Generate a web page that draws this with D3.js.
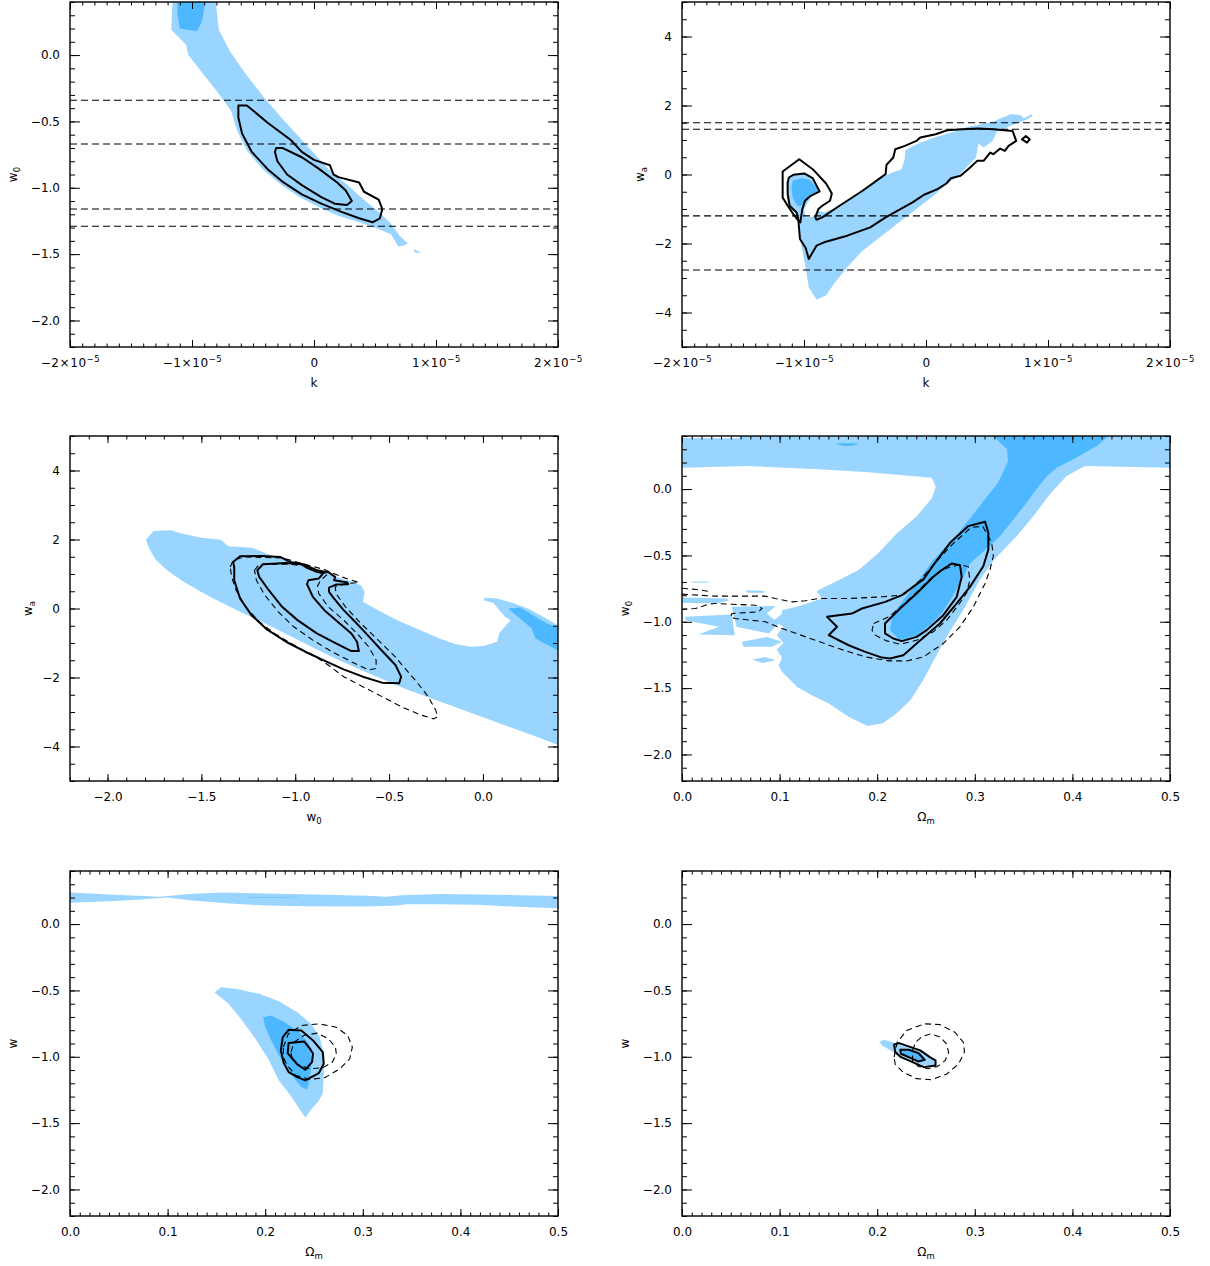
<!DOCTYPE html>
<html>
<head>
<meta charset="utf-8">
<script src="https://cdn.jsdelivr.net/npm/d3@7"></script>
<style>
  body { margin: 0; background: #fff; }
  svg { display: block; }
  text { font-family: "DejaVu Sans", sans-serif; fill: #000; }
</style>
</head>
<body>
<svg id="chart" width="1210" height="1266"></svg>
<script>
// ---- tick labels ----
const kTicks = [-2, -1, 0, 1, 2];              // k in units of 1e-5
const kTickLabels = [
  { base: '−2×10', exp: '−5' }, { base: '−1×10', exp: '−5' }, { base: '0', exp: '' },
  { base: '1×10', exp: '−5' }, { base: '2×10', exp: '−5' }
];
const w0Ticks = [0, -0.5, -1, -1.5, -2];
const w0TickLabels = ['0.0', '−0.5', '−1.0', '−1.5', '−2.0'];
const waTicks = [4, 2, 0, -2, -4];
const waTickLabels = ['4', '2', '0', '−2', '−4'];
const w0xTicks = [-2, -1.5, -1, -0.5, 0];
const w0xTickLabels = ['−2.0', '−1.5', '−1.0', '−0.5', '0.0'];
const omTicks = [0, 0.1, 0.2, 0.3, 0.4, 0.5];
const omTickLabels = ['0.0', '0.1', '0.2', '0.3', '0.4', '0.5'];

// ---- panel 1: k vs w0 ----
const p1Light = [[-1.16,0.40],[-1.17,0.19],[-1.05,0.08],[-1.03,0.0],[-0.92,-0.13],[-0.79,-0.28],[-0.68,-0.42],[-0.63,-0.57],[-0.55,-0.72],[-0.42,-0.86],[-0.28,-0.97],[-0.12,-1.07],[0.05,-1.15],[0.20,-1.21],[0.37,-1.26],[0.53,-1.31],[0.63,-1.35],[0.69,-1.44],[0.72,-1.44],[0.77,-1.42],[0.70,-1.36],[0.63,-1.27],[0.53,-1.18],[0.42,-1.10],[0.25,-0.96],[0.12,-0.86],[0.03,-0.77],[-0.10,-0.64],[-0.25,-0.49],[-0.41,-0.32],[-0.57,-0.13],[-0.69,0.03],[-0.78,0.19],[-0.805,0.40]];
const p1Island = [[0.81,-1.46],[0.88,-1.49],[0.83,-1.49]];
const p1Dark = [[-1.12,0.40],[-0.90,0.40],[-0.90,0.35],[-0.92,0.25],[-0.96,0.18],[-1.10,0.20],[-1.12,0.31]];
const p1Outer = [[-0.62,-0.38],[-0.55,-0.38],[-0.38,-0.51],[-0.19,-0.64],[-0.10,-0.73],[0.0,-0.79],[0.13,-0.83],[0.16,-0.90],[0.20,-0.92],[0.37,-0.96],[0.41,-1.03],[0.53,-1.09],[0.56,-1.16],[0.54,-1.23],[0.48,-1.26],[0.37,-1.23],[0.22,-1.18],[0.06,-1.12],[-0.10,-1.05],[-0.25,-0.96],[-0.38,-0.86],[-0.51,-0.73],[-0.59,-0.59],[-0.62,-0.47]];
const p1Inner = [[-0.31,-0.70],[-0.26,-0.70],[-0.10,-0.77],[0.03,-0.85],[0.19,-0.96],[0.26,-1.02],[0.31,-1.10],[0.27,-1.13],[0.17,-1.12],[0.06,-1.07],[-0.10,-0.98],[-0.22,-0.90],[-0.30,-0.80],[-0.32,-0.73]];
const p1Levels = [-0.34, -0.67, -1.16, -1.29];

// ---- panel 2: k vs wa ----
const p2Light = [[-1.118,-0.039],[-1.008,0.029],[-0.923,-0.087],[-0.879,-0.424],[-0.945,-0.665],[-0.998,-1.002],[-0.986,-1.243],[-0.929,-1.224],[-0.882,-1.05],[-0.835,-1.10],[-0.709,-0.92],[-0.551,-0.52],[-0.40,-0.15],[-0.28,0.05],[-0.20,0.15],[-0.175,0.45],[-0.17,0.70],[-0.079,0.877],[0.079,1.089],[0.236,1.243],[0.331,1.378],[0.425,1.436],[0.551,1.533],[0.661,1.696],[0.693,1.745],[0.772,1.725],[0.803,1.629],[0.866,1.745],[0.872,1.696],[0.819,1.581],[0.709,1.436],[0.583,1.243],[0.545,0.973],[0.472,0.781],[0.431,0.896],[0.409,0.492],[0.346,0.251],[0.252,-0.087],[0.173,-0.26],[0.063,-0.617],[-0.079,-1.002],[-0.205,-1.340],[-0.362,-1.773],[-0.520,-2.207],[-0.646,-2.689],[-0.756,-3.171],[-0.819,-3.508],[-0.898,-3.624],[-0.961,-3.267],[-0.983,-2.786],[-1.008,-2.304],[-1.033,-1.870],[-1.046,-1.388],[-1.061,-1.147],[-1.118,-0.906],[-1.134,-0.569],[-1.134,-0.231]];
const p2Dark = [[-1.093,-0.183],[-1.024,-0.106],[-0.961,-0.135],[-0.898,-0.376],[-0.888,-0.520],[-0.945,-0.569],[-0.992,-0.761],[-1.024,-0.906],[-1.055,-0.906],[-1.093,-0.665],[-1.102,-0.376]];
const p2Outer = [[-1.175,0.087],[-1.039,0.443],[-0.929,0.154],[-0.819,-0.260],[-0.772,-0.549],[-0.787,-0.761],[-0.850,-0.906],[-0.882,-1.002],[-0.907,-1.243],[-0.898,-1.31],[-0.850,-1.243],[-0.709,-0.906],[-0.520,-0.472],[-0.331,0.010],[-0.324,0.28],[-0.268,0.492],[-0.252,0.733],[-0.173,0.829],[-0.079,0.973],[-0.047,1.07],[0.079,1.166],[0.173,1.282],[0.299,1.311],[0.425,1.33],[0.551,1.311],[0.709,1.263],[0.740,0.973],[0.677,0.829],[0.646,0.684],[0.608,0.752],[0.551,0.588],[0.526,0.636],[0.472,0.395],[0.419,0.395],[0.362,0.202],[0.283,-0.039],[0.205,-0.106],[0.167,-0.26],[0.094,-0.424],[-0.016,-0.588],[-0.110,-0.81],[-0.331,-1.243],[-0.457,-1.533],[-0.646,-1.773],[-0.835,-1.966],[-0.898,-2.063],[-0.961,-2.448],[-0.986,-2.13],[-1.033,-1.870],[-1.046,-1.340],[-1.087,-1.147],[-1.134,-0.906],[-1.175,-0.665]];
const p2Inner = [[-1.124,-0.087],[-1.087,-0.01],[-0.998,0.029],[-0.929,-0.106],[-0.872,-0.492],[-0.945,-0.617],[-0.992,-0.761],[-1.014,-1.002],[-1.030,-1.388],[-1.046,-1.32],[-1.061,-1.099],[-1.118,-0.906],[-1.134,-0.569],[-1.134,-0.231]];
const p2Diamond = [[0.787,1.02],[0.819,1.118],[0.850,1.02],[0.828,0.925]];
const p2Levels = [1.50, 1.31, -1.20, -2.77];

// ---- panel 3: w0 vs wa ----
const p3Light = [[-1.796,1.995],[-1.755,2.246],[-1.663,2.265],[-1.601,2.169],[-1.499,2.053],[-1.397,1.995],[-1.356,1.802],[-1.233,1.764],[-1.172,1.639],[-1.110,1.494],[-1.008,1.349],[-0.926,1.205],[-0.845,1.060],[-0.783,0.916],[-0.722,0.819],[-0.650,0.675],[-0.630,0.482],[-0.640,0.193],[-0.558,-0.048],[-0.456,-0.337],[-0.333,-0.627],[-0.231,-0.867],[-0.149,-1.031],[-0.067,-1.108],[0.004,-1.089],[0.076,-0.964],[0.086,-0.723],[0.117,-0.530],[0.147,-0.337],[0.117,-0.241],[0.055,0.164],[0.004,0.241],[0.010,0.308],[0.076,0.289],[0.157,0.164],[0.239,0.0],[0.321,-0.241],[0.42,-0.55],[0.42,-4.0],[0.321,-3.788],[0.198,-3.547],[0.076,-3.306],[-0.047,-3.055],[-0.170,-2.814],[-0.292,-2.573],[-0.415,-2.323],[-0.538,-2.043],[-0.661,-1.754],[-0.783,-1.455],[-0.906,-1.128],[-1.029,-0.790],[-1.151,-0.453],[-1.274,-0.145],[-1.397,0.183],[-1.499,0.472],[-1.601,0.800],[-1.683,1.108],[-1.744,1.417],[-1.775,1.706]];
const p3Dark = [[0.137,0.0],[0.198,0.029],[0.280,-0.241],[0.342,-0.434],[0.42,-0.60],[0.42,-1.27],[0.362,-1.108],[0.280,-0.867],[0.260,-0.578],[0.198,-0.289],[0.147,-0.067]];
const p3Outer = [[-1.325,1.205],[-1.331,1.349],[-1.294,1.513],[-1.172,1.523],[-1.080,1.494],[-1.029,1.349],[-0.957,1.282],[-0.885,1.108],[-0.820,1.041],[-0.787,0.916],[-0.793,0.819],[-0.722,0.752],[-0.718,0.704],[-0.783,0.694],[-0.820,0.607],[-0.820,0.482],[-0.793,0.289],[-0.742,-0.048],[-0.681,-0.386],[-0.609,-0.800],[-0.538,-1.224],[-0.466,-1.639],[-0.436,-1.976],[-0.446,-2.169],[-0.538,-2.149],[-0.640,-1.976],[-0.742,-1.764],[-0.845,-1.513],[-0.947,-1.253],[-1.049,-0.964],[-1.151,-0.607],[-1.233,-0.193],[-1.294,0.289],[-1.325,0.819]];
const p3Inner = [[-1.202,1.108],[-1.172,1.282],[-1.049,1.320],[-0.967,1.282],[-0.937,1.176],[-0.885,1.060],[-0.849,1.031],[-0.875,0.867],[-0.930,0.819],[-0.937,0.704],[-0.906,0.337],[-0.845,-0.048],[-0.763,-0.434],[-0.701,-0.723],[-0.671,-0.964],[-0.661,-1.234],[-0.701,-1.234],[-0.783,-1.012],[-0.885,-0.723],[-0.988,-0.337],[-1.070,0.048],[-1.141,0.530],[-1.192,0.916]];
const p3DashOuter = [[-1.346,1.205],[-1.331,1.398],[-1.274,1.494],[-1.070,1.465],[-0.947,1.282],[-0.845,1.128],[-0.753,0.916],[-0.661,0.752],[-0.732,0.723],[-0.787,0.627],[-0.783,0.434],[-0.732,0.048],[-0.650,-0.434],[-0.558,-0.916],[-0.476,-1.349],[-0.415,-1.735],[-0.354,-2.120],[-0.292,-2.554],[-0.252,-2.940],[-0.241,-3.133],[-0.262,-3.200],[-0.333,-3.084],[-0.436,-2.843],[-0.538,-2.554],[-0.640,-2.265],[-0.742,-1.976],[-0.824,-1.639],[-0.906,-1.349],[-1.008,-1.060],[-1.110,-0.723],[-1.192,-0.386],[-1.264,0.048],[-1.315,0.530],[-1.339,0.916]];
const p3DashInner = [[-1.217,1.108],[-1.192,1.282],[-1.029,1.282],[-0.947,1.234],[-0.885,1.051],[-0.824,1.012],[-0.865,0.819],[-0.881,0.655],[-0.875,0.434],[-0.824,0.048],[-0.742,-0.337],[-0.671,-0.723],[-0.609,-1.108],[-0.569,-1.494],[-0.569,-1.735],[-0.609,-1.783],[-0.701,-1.542],[-0.804,-1.253],[-0.906,-0.916],[-1.008,-0.530],[-1.090,-0.096],[-1.162,0.386],[-1.207,0.819]];

// ---- panel 4: Omega_m vs w0 ----
const p4Light = [[0,0.385],[0.058,0.383],[0.062,0.4],[0.5,0.4],[0.5,0.161],[0.413,0.173],[0.394,0.098],[0.377,-0.038],[0.360,-0.204],[0.343,-0.354],[0.320,-0.53],[0.305,-0.686],[0.288,-0.913],[0.271,-1.114],[0.258,-1.290],[0.247,-1.440],[0.234,-1.591],[0.220,-1.689],[0.206,-1.765],[0.190,-1.785],[0.171,-1.717],[0.150,-1.614],[0.133,-1.553],[0.118,-1.491],[0.1025,-1.378],[0.099,-1.33],[0.1025,-1.27],[0.097,-1.21],[0.104,-1.16],[0.097,-1.10],[0.104,-1.04],[0.094,-0.99],[0.1025,-0.94],[0.1025,-0.913],[0.123,-0.875],[0.1434,-0.825],[0.138,-0.774],[0.140,-0.760],[0.161,-0.685],[0.181,-0.610],[0.201,-0.484],[0.220,-0.334],[0.240,-0.208],[0.256,-0.07],[0.26,0.018],[0.256,0.085],[0.1875,0.128],[0.136,0.151],[0.068,0.173],[0,0.161]];
const p4Frag1 = [[0.010,-0.697],[0.027,-0.697],[0.027,-0.705],[0.010,-0.705]];
const p4Frag2 = [[0,-0.817],[0.046,-0.825],[0.048,-0.842],[0.034,-0.862],[0,-0.857]];
const p4Frag3 = [[0.065,-0.762],[0.085,-0.767],[0.084,-0.782],[0.067,-0.782]];
const p4Frag4 = [[0.0034,-0.963],[0.051,-0.945],[0.054,-1.101],[0.017,-1.096],[0.038,-1.038],[0.0034,-0.988]];
const p4Frag5 = [[0.051,-0.887],[0.096,-0.882],[0.087,-0.938],[0.099,-1.013],[0.089,-1.089],[0.056,-1.038],[0.053,-0.950]];
const p4Frag6 = [[0.0615,-1.151],[0.087,-1.114],[0.1025,-1.151],[0.092,-1.189],[0.063,-1.189]];
const p4Frag7 = [[0.072,-1.285],[0.085,-1.265],[0.096,-1.290],[0.082,-1.310]];
const p4Dark = [[0.319,0.4],[0.333,0.30],[0.334,0.21],[0.324,0.05],[0.308,-0.10],[0.293,-0.24],[0.278,-0.38],[0.2575,-0.535],[0.240,-0.711],[0.2268,-0.837],[0.2165,-0.937],[0.2149,-0.975],[0.2131,-1.063],[0.2234,-1.139],[0.2404,-1.101],[0.254,-1.026],[0.266,-0.937],[0.276,-0.824],[0.2866,-0.686],[0.295,-0.560],[0.311,-0.455],[0.326,-0.354],[0.3395,-0.229],[0.353,-0.103],[0.363,-0.002],[0.374,0.098],[0.384,0.161],[0.401,0.224],[0.425,0.324],[0.4368,0.4]];
const p4DarkSliver = [[0.157,0.345],[0.181,0.345],[0.175,0.327],[0.165,0.327]];
const p4Outer = [[0.1486,-0.963],[0.1742,-0.938],[0.1844,-0.900],[0.2083,-0.850],[0.2254,-0.799],[0.2391,-0.724],[0.2473,-0.681],[0.2592,-0.556],[0.2746,-0.405],[0.2934,-0.279],[0.3105,-0.246],[0.3139,-0.329],[0.3139,-0.455],[0.3087,-0.581],[0.295,-0.737],[0.2815,-0.862],[0.2643,-1.013],[0.2404,-1.164],[0.2268,-1.252],[0.2131,-1.277],[0.2049,-1.270],[0.1878,-1.227],[0.1708,-1.177],[0.1503,-1.101],[0.1588,-1.038]];
const p4Inner = [[0.2763,-0.561],[0.2848,-0.573],[0.2866,-0.661],[0.2815,-0.812],[0.2677,-0.950],[0.2507,-1.063],[0.2404,-1.114],[0.2251,-1.146],[0.2165,-1.126],[0.2080,-1.088],[0.2080,-1.013],[0.2234,-0.900],[0.2404,-0.787],[0.2575,-0.661],[0.2661,-0.611]];
const p4DashOuter = [[0,-0.792],[0.0342,-0.807],[0.0854,-0.807],[0.0956,-0.825],[0.1127,-0.850],[0.1264,-0.842],[0.140,-0.825],[0.1708,-0.825],[0.2049,-0.812],[0.2254,-0.799],[0.2300,-0.78],[0.2450,-0.68],[0.2600,-0.55],[0.2780,-0.41],[0.2960,-0.29],[0.3080,-0.28],[0.3173,-0.405],[0.319,-0.505],[0.3156,-0.606],[0.3105,-0.711],[0.2985,-0.888],[0.2848,-1.038],[0.2677,-1.164],[0.2473,-1.265],[0.2302,-1.295],[0.2117,-1.295],[0.1878,-1.265],[0.1605,-1.202],[0.1366,-1.139],[0.1025,-1.051],[0.0854,-1.000],[0.0546,-0.975],[0.0495,-0.963],[0.0512,-0.938],[0.0786,-0.925],[0.082,-0.900],[0.0751,-0.875],[0.0512,-0.868],[0.0342,-0.862],[0.0273,-0.868],[0.0137,-0.900],[0,-0.907]];
const p4DashStub = [[0,-0.747],[0.015,-0.757],[0.0295,-0.773]];
const p4DashInner = [[0.1964,-1.013],[0.205,-0.985],[0.2117,-0.963],[0.224,-0.89],[0.240,-0.78],[0.256,-0.665],[0.267,-0.605],[0.2848,-0.568],[0.2934,-0.586],[0.2934,-0.606],[0.295,-0.681],[0.2917,-0.782],[0.2831,-0.875],[0.2712,-0.988],[0.2575,-1.076],[0.2404,-1.139],[0.2234,-1.169],[0.2097,-1.144],[0.2046,-1.126],[0.1981,-1.101],[0.1947,-1.063]];

// ---- panel 5: Omega_m vs w ----
const p5Band = [[0,0.238],[0.045,0.221],[0.092,0.206],[0.123,0.226],[0.155,0.238],[0.202,0.231],[0.261,0.221],[0.304,0.213],[0.324,0.206],[0.340,0.218],[0.379,0.226],[0.438,0.221],[0.5,0.211],[0.5,0.120],[0.458,0.130],[0.418,0.145],[0.379,0.150],[0.344,0.150],[0.336,0.140],[0.300,0.133],[0.241,0.135],[0.202,0.140],[0.163,0.155],[0.123,0.180],[0.100,0.200],[0.076,0.188],[0.045,0.173],[0,0.160]];
const p5BandDark = [[0.182,0.201],[0.233,0.206],[0.233,0.202],[0.182,0.198]];
const p5Light = [[0.148,-0.514],[0.155,-0.476],[0.171,-0.489],[0.194,-0.526],[0.214,-0.581],[0.233,-0.664],[0.247,-0.752],[0.256,-0.852],[0.260,-0.977],[0.260,-1.128],[0.259,-1.278],[0.254,-1.341],[0.247,-1.398],[0.241,-1.459],[0.235,-1.391],[0.226,-1.291],[0.214,-1.178],[0.204,-1.028],[0.190,-0.865],[0.176,-0.722],[0.162,-0.596],[0.152,-0.539]];
const p5Dark = [[0.198,-0.702],[0.206,-0.689],[0.220,-0.739],[0.235,-0.815],[0.245,-0.902],[0.248,-1.028],[0.246,-1.153],[0.243,-1.248],[0.237,-1.228],[0.226,-1.128],[0.216,-1.015],[0.207,-0.890],[0.200,-0.777]];
const p5Outer = [[0.218,-0.852],[0.224,-0.797],[0.237,-0.802],[0.249,-0.877],[0.259,-0.965],[0.260,-1.053],[0.255,-1.123],[0.241,-1.178],[0.233,-1.153],[0.224,-1.115],[0.219,-1.048],[0.216,-0.952]];
const p5Inner = [[0.224,-0.897],[0.240,-0.885],[0.246,-0.940],[0.249,-0.977],[0.248,-1.040],[0.241,-1.098],[0.233,-1.058],[0.228,-1.015],[0.223,-0.972]];
const p5DashOuter = [[0.2186,-0.927],[0.2237,-0.827],[0.2374,-0.764],[0.2551,-0.752],[0.2728,-0.777],[0.2846,-0.840],[0.2893,-0.927],[0.2866,-1.015],[0.2767,-1.090],[0.2610,-1.158],[0.2453,-1.170],[0.2315,-1.140],[0.2225,-1.065],[0.2186,-1.003]];
const p5DashInner = [[0.2264,-0.965],[0.2296,-0.890],[0.2394,-0.840],[0.2531,-0.822],[0.2649,-0.865],[0.2720,-0.927],[0.2728,-0.977],[0.2689,-1.040],[0.2590,-1.083],[0.2453,-1.090],[0.2335,-1.058],[0.2276,-1.015]];

// ---- panel 6: Omega_m vs w ----
const p6Light = [[0.2020,-0.890],[0.2067,-0.872],[0.2185,-0.897],[0.2323,-0.932],[0.2441,-0.957],[0.2539,-1.003],[0.2598,-1.040],[0.2591,-1.073],[0.2480,-1.065],[0.2362,-1.033],[0.2244,-0.997],[0.2146,-0.957],[0.2055,-0.917]];
const p6Dark = [[0.2244,-0.947],[0.2362,-0.952],[0.2441,-0.967],[0.2488,-1.020],[0.2433,-1.030],[0.2343,-1.003],[0.2264,-0.977]];
const p6Outer = [[0.2173,-0.907],[0.2224,-0.897],[0.2343,-0.927],[0.2441,-0.952],[0.2539,-1.003],[0.2598,-1.028],[0.2598,-1.065],[0.2480,-1.078],[0.2362,-1.040],[0.2244,-1.003],[0.2185,-0.965]];
const p6Inner = [[0.2236,-0.947],[0.2323,-0.947],[0.2421,-0.972],[0.2488,-1.023],[0.2421,-1.035],[0.2323,-1.003],[0.2244,-0.977]];
const p6DashOuter = [[0.2173,-1.003],[0.2205,-0.890],[0.2303,-0.802],[0.2480,-0.752],[0.2638,-0.757],[0.2795,-0.815],[0.2882,-0.890],[0.2894,-0.965],[0.2835,-1.053],[0.2717,-1.128],[0.2559,-1.173],[0.2402,-1.165],[0.2264,-1.115],[0.2185,-1.058]];
const p6DashInner = [[0.2362,-0.952],[0.2394,-0.890],[0.2461,-0.847],[0.2551,-0.827],[0.2646,-0.852],[0.2709,-0.902],[0.2732,-0.965],[0.2697,-1.028],[0.2618,-1.073],[0.2520,-1.090],[0.2421,-1.073],[0.2362,-1.028]];

// ---- styles ----
const LIGHT = '#99d5ff';
const DARK = '#4db8ff';
const W = 488, H = 345;

const panels = [
  { id: 1, left: 70, top: 2, xDomain: [-2, 2], yDomain: [-2.2, 0.4],
    xTicks: kTicks, xLabels: kTickLabels, xMinor: 0.1, yTicks: w0Ticks, yLabels: w0TickLabels, yMinor: 0.1,
    xTitle: ['k', ''], yTitle: ['w', '0'], yTitleOff: 53,
    light: [p1Light, p1Island], dark: [p1Dark], hLines: p1Levels, dashed: [], solid: [p1Outer, p1Inner] },
  { id: 2, left: 682, top: 2, xDomain: [-2, 2], yDomain: [-5, 5],
    xTicks: kTicks, xLabels: kTickLabels, xMinor: 0.1, yTicks: waTicks, yLabels: waTickLabels, yMinor: 0.5,
    xTitle: ['k', ''], yTitle: ['w', 'a'], yTitleOff: 38,
    light: [p2Light], dark: [p2Dark], hLines: p2Levels, dashed: [], solid: [p2Outer, p2Inner, p2Diamond] },
  { id: 3, left: 70, top: 436, xDomain: [-2.2, 0.4], yDomain: [-5, 5],
    xTicks: w0xTicks, xLabels: w0xTickLabels, xMinor: 0.1, yTicks: waTicks, yLabels: waTickLabels, yMinor: 0.5,
    xTitle: ['w', '0'], yTitle: ['w', 'a'], yTitleOff: 38,
    light: [p3Light], dark: [p3Dark], hLines: [], dashed: [[p3DashOuter, true], [p3DashInner, true]], solid: [p3Outer, p3Inner] },
  { id: 4, left: 682, top: 436, xDomain: [0, 0.5], yDomain: [-2.2, 0.4],
    xTicks: omTicks, xLabels: omTickLabels, xMinor: 0.01, yTicks: w0Ticks, yLabels: w0TickLabels, yMinor: 0.1,
    xTitle: ['Ω', 'm'], yTitle: ['w', '0'], yTitleOff: 53,
    light: [p4Light, p4Frag1, p4Frag2, p4Frag3, p4Frag4, p4Frag5, p4Frag6, p4Frag7], dark: [p4Dark, p4DarkSliver], hLines: [],
    dashed: [[p4DashOuter, false], [p4DashStub, false], [p4DashInner, true]], solid: [p4Outer, p4Inner] },
  { id: 5, left: 70, top: 871, xDomain: [0, 0.5], yDomain: [-2.2, 0.4],
    xTicks: omTicks, xLabels: omTickLabels, xMinor: 0.01, yTicks: w0Ticks, yLabels: w0TickLabels, yMinor: 0.1,
    xTitle: ['Ω', 'm'], yTitle: ['w', ''], yTitleOff: 53,
    light: [p5Band, p5Light], dark: [p5BandDark, p5Dark], hLines: [],
    dashed: [[p5DashOuter, true], [p5DashInner, true]], solid: [p5Outer, p5Inner] },
  { id: 6, left: 682, top: 871, xDomain: [0, 0.5], yDomain: [-2.2, 0.4],
    xTicks: omTicks, xLabels: omTickLabels, xMinor: 0.01, yTicks: w0Ticks, yLabels: w0TickLabels, yMinor: 0.1,
    xTitle: ['Ω', 'm'], yTitle: ['w', ''], yTitleOff: 53,
    light: [p6Light], dark: [p6Dark], hLines: [],
    dashed: [[p6DashOuter, true], [p6DashInner, true]], solid: [p6Outer, p6Inner] }
];

const svg = d3.select('#chart');

function minorValues(domain, step) {
  const n = Math.round((domain[1] - domain[0]) / step);
  return d3.range(n + 1).map(i => +(domain[0] + i * step).toFixed(6));
}

function styleAxis(sel) {
  sel.select('.domain').remove();
  sel.selectAll('.tick line').attr('stroke', '#000').attr('stroke-width', 1);
  sel.selectAll('.tick text').attr('font-size', 12).attr('fill', '#000');
}

function drawPanel(p) {
  const g = svg.append('g').attr('transform', `translate(${p.left},${p.top})`);
  const x = d3.scaleLinear().domain(p.xDomain).range([0, W]);
  const y = d3.scaleLinear().domain(p.yDomain).range([H, 0]);

  const clipId = 'clip' + p.id;
  g.append('clipPath').attr('id', clipId)
    .append('rect').attr('width', W).attr('height', H);
  const plot = g.append('g').attr('clip-path', `url(#${clipId})`);

  const closedLine = d3.line().x(d => x(d[0])).y(d => y(d[1])).curve(d3.curveLinearClosed);
  const openLine = d3.line().x(d => x(d[0])).y(d => y(d[1]));

  p.light.forEach(poly => plot.append('path').attr('d', closedLine(poly)).attr('fill', LIGHT));
  p.dark.forEach(poly => plot.append('path').attr('d', closedLine(poly)).attr('fill', DARK));

  p.hLines.forEach(v => {
    plot.append('line')
      .attr('x1', 0).attr('x2', W).attr('y1', y(v)).attr('y2', y(v))
      .attr('stroke', '#000').attr('stroke-width', 1.1).attr('stroke-dasharray', '7,4');
  });

  p.dashed.forEach(([pts, isClosed]) => {
    plot.append('path').attr('d', (isClosed ? closedLine : openLine)(pts))
      .attr('fill', 'none').attr('stroke', '#000').attr('stroke-width', 1.1)
      .attr('stroke-dasharray', '6,4');
  });

  p.solid.forEach(pts => {
    plot.append('path').attr('d', closedLine(pts))
      .attr('fill', 'none').attr('stroke', '#000').attr('stroke-width', 2)
      .attr('stroke-linejoin', 'round');
  });

  // axes: major + minor ticks on all four sides, pointing inward
  const xMin = minorValues(p.xDomain, p.xMinor);
  const yMin = minorValues(p.yDomain, p.yMinor);

  g.append('g').attr('transform', `translate(0,${H})`)
    .call(d3.axisBottom(x).tickValues(xMin).tickSize(-3.5).tickFormat('')).call(styleAxis);
  g.append('g').call(d3.axisTop(x).tickValues(xMin).tickSize(-3.5).tickFormat('')).call(styleAxis);
  g.append('g').call(d3.axisTop(x).tickValues(p.xTicks).tickSize(-7).tickFormat('')).call(styleAxis);
  g.append('g').call(d3.axisLeft(y).tickValues(yMin).tickSize(-5).tickFormat('')).call(styleAxis);
  g.append('g').attr('transform', `translate(${W},0)`)
    .call(d3.axisRight(y).tickValues(yMin).tickSize(-5).tickFormat('')).call(styleAxis);
  g.append('g').attr('transform', `translate(${W},0)`)
    .call(d3.axisRight(y).tickValues(p.yTicks).tickSize(-10).tickFormat('')).call(styleAxis);

  const xAxisG = g.append('g').attr('transform', `translate(0,${H})`)
    .call(d3.axisBottom(x).tickValues(p.xTicks).tickSize(-7).tickPadding(11)
      .tickFormat((d, i) => typeof p.xLabels[i] === 'string' ? p.xLabels[i] : ''))
    .call(styleAxis);
  if (typeof p.xLabels[0] !== 'string') {
    xAxisG.selectAll('.tick text').each(function (d, i) {
      const t = d3.select(this);
      const lbl = p.xLabels[i];
      t.text(null).attr('letter-spacing', 0.6);
      t.append('tspan').text(lbl.base);
      if (lbl.exp) t.append('tspan').attr('dy', -5).attr('font-size', 8.5).text(lbl.exp);
    });
  }

  g.append('g')
    .call(d3.axisLeft(y).tickValues(p.yTicks).tickSize(-10).tickPadding(10)
      .tickFormat((d, i) => p.yLabels[i]))
    .call(styleAxis);

  // frame
  g.append('rect').attr('width', W).attr('height', H)
    .attr('fill', 'none').attr('stroke', '#000').attr('stroke-width', 1.4);

  // axis titles
  const xt = g.append('text').attr('x', W / 2).attr('y', H + 40)
    .attr('text-anchor', 'middle').attr('font-size', 12);
  xt.append('tspan').text(p.xTitle[0]);
  if (p.xTitle[1]) xt.append('tspan').attr('dy', 3).attr('font-size', 8.5).text(p.xTitle[1]);

  const yt = g.append('text')
    .attr('transform', `translate(${-p.yTitleOff},${H / 2}) rotate(-90)`)
    .attr('text-anchor', 'middle').attr('font-size', 12);
  yt.append('tspan').text(p.yTitle[0]);
  if (p.yTitle[1]) yt.append('tspan').attr('dy', 3).attr('font-size', 8.5).text(p.yTitle[1]);
}

panels.forEach(drawPanel);
</script>
</body>
</html>
